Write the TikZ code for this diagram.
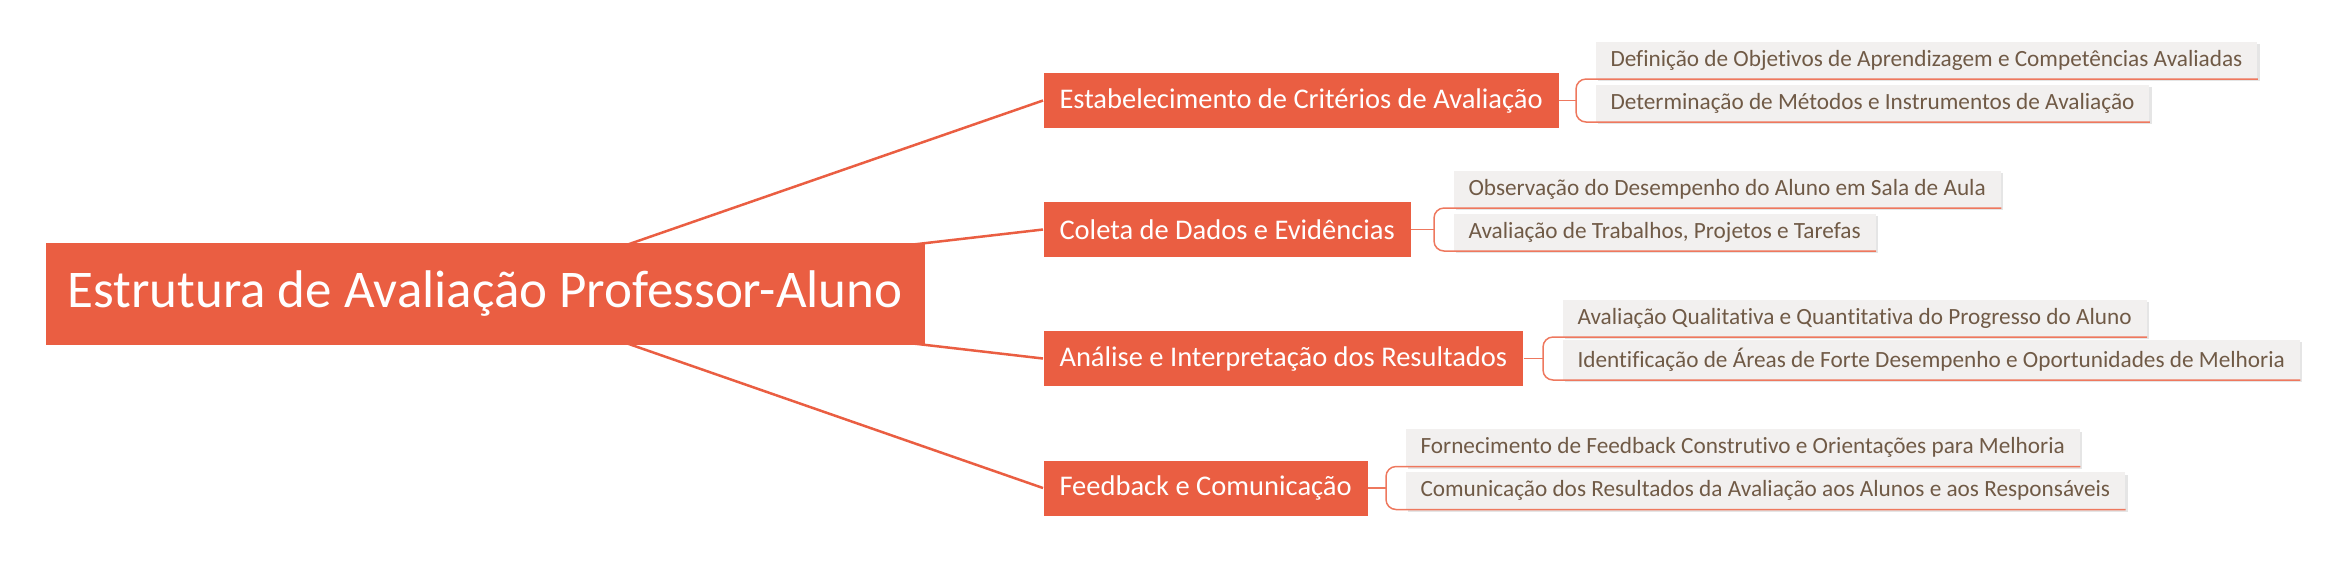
\documentclass[tikz,border=0pt]{standalone}
\usepackage{fontspec}
\setmainfont{Carlito}[Ligatures=NoCommon]
\usetikzlibrary{backgrounds,shadows}

\definecolor{mapOrange}{RGB}{234,94,66}
\definecolor{mapLine}{RGB}{238,120,94}
\definecolor{leafFill}{RGB}{242,240,239}
\definecolor{leafText}{RGB}{112,90,70}

\tikzset{
  rootbox/.style={fill=mapOrange, text=white, anchor=west,
    font=\fontsize{21.2}{25}\selectfont, minimum height=40.8pt, inner xsep=8.8pt},
  branchbox/.style={fill=mapOrange, text=white, anchor=west,
    font=\fontsize{11.4}{13}\selectfont, minimum height=22pt, inner xsep=6.4pt},
  leafbox/.style={fill=leafFill, text=leafText, anchor=south west,
    font=\fontsize{9.3}{11}\selectfont, minimum height=13.6pt, inner xsep=6pt,
    drop shadow={shadow xshift=1pt, shadow yshift=-1pt, opacity=0.1, fill=black}},
  rootlink/.style={draw=mapOrange, line width=1pt},
  leaflink/.style={draw=mapLine, line width=0.6pt, rounded corners=4pt},
}

\begin{document}
\begin{tikzpicture}[x=0.4pt, y=-0.4pt]
    \useasboundingbox (0, 0) rectangle (2337, 576);

    % central topic
    \node[rootbox] (root) at (45, 294) {Estrutura de Avaliação Professor-Aluno};

    % main branches
    \node[branchbox] (crit) at (1043, 100.5) {Estabelecimento de Critérios de Avaliação};
    \node[branchbox] (coleta) at (1043, 229.5) {Coleta de Dados e Evidências};
    \node[branchbox] (analise) at (1043, 358.5) {Análise e Interpretação dos Resultados};
    \node[branchbox] (feedback) at (1043, 488) {Feedback e Comunicação};

    % sub topics
    \node[leafbox] (crit1) at (1595, 79) {Definição de Objetivos de Aprendizagem e Competências Avaliadas};
    \node[leafbox] (crit2) at (1595, 122) {Determinação de Métodos e Instrumentos de Avaliação};
    \node[leafbox] (coleta1) at (1453, 208) {Observação do Desempenho do Aluno em Sala de Aula};
    \node[leafbox] (coleta2) at (1453, 251) {Avaliação de Trabalhos, Projetos e Tarefas};
    \node[leafbox] (analise1) at (1562, 337) {Avaliação Qualitativa e Quantitativa do Progresso do Aluno};
    \node[leafbox] (analise2) at (1562, 380) {Identificação de Áreas de Forte Desempenho e Oportunidades de Melhoria};
    \node[leafbox] (feedback1) at (1405, 466.5) {Fornecimento de Feedback Construtivo e Orientações para Melhoria};
    \node[leafbox] (feedback2) at (1405, 509.5) {Comunicação dos Resultados da Avaliação aos Alunos e aos Responsáveis};

    \begin{pgfonlayer}{background}
      \foreach \br in {crit, coleta, analise, feedback} {
        \draw[rootlink] (root.center) -- (\br.west);
      }
    \end{pgfonlayer}

    \foreach \br in {crit, coleta, analise, feedback} {
      \coordinate (\br fork) at ([xshift=-7.6pt]\br1.south west |- \br.east);
      \draw[leaflink] (\br.east) -- (\br fork);
      \draw[leaflink]
        (\br1.south east) -|
        (\br fork) |-
        (\br2.south east);
    }
  \end{tikzpicture}
\end{document}
